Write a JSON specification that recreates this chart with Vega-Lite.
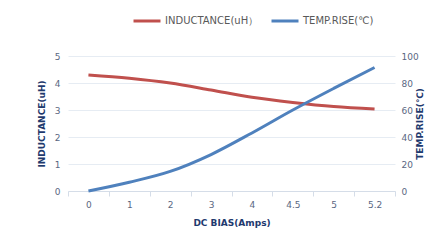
{
  "$schema": "https://vega.github.io/schema/vega-lite/v6.json",
  "width": 327,
  "height": 135,
  "autosize": "none",
  "padding": {"left": 68, "top": 56, "right": 43, "bottom": 49},
  "background": "white",
  "config": {
    "view": {"stroke": null},
    "font": "DejaVu Sans",
    "axis": {
      "labelFont": "DejaVu Sans",
      "labelFontSize": 9,
      "labelColor": "#5a6782",
      "titleFont": "DejaVu Sans",
      "titleFontSize": 9,
      "titleFontWeight": "bold",
      "titleColor": "#1f3a6e",
      "gridColor": "#e6ecf3",
      "domainColor": "#d5dde8",
      "tickColor": "#d5dde8"
    }
  },
  "data": {
    "values": [
      {"bias": "0", "ind": 4.3, "temp": 0},
      {"bias": "1", "ind": 4.18, "temp": 6.5},
      {"bias": "2", "ind": 4.0, "temp": 14.5},
      {"bias": "3", "ind": 3.74, "temp": 27},
      {"bias": "4", "ind": 3.47, "temp": 43},
      {"bias": "4.5", "ind": 3.28, "temp": 60},
      {"bias": "5", "ind": 3.13, "temp": 76},
      {"bias": "5.2", "ind": 3.04, "temp": 91.5}
    ]
  },
  "encoding": {
    "x": {
      "field": "bias",
      "type": "ordinal",
      "sort": null,
      "scale": {"type": "band", "paddingInner": 0, "paddingOuter": 0},
      "axis": {
        "title": "DC BIAS(Amps)",
        "labelAngle": 0,
        "tickBand": "extent",
        "tickSize": 5,
        "labelPadding": 4,
        "titlePadding": 9,
        "grid": false
      }
    }
  },
  "layer": [
    {
      "mark": {"type": "line", "interpolate": "monotone", "strokeWidth": 3},
      "encoding": {
        "y": {
          "field": "ind",
          "type": "quantitative",
          "scale": {"domain": [0, 5], "nice": false},
          "axis": {
            "title": "INDUCTANCE(uH)",
            "values": [0, 1, 2, 3, 4, 5],
            "labelOverlap": false,
            "domain": false,
            "ticks": false,
            "grid": true,
            "labelPadding": 8,
            "titlePadding": 8
          }
        },
        "color": {
          "datum": "INDUCTANCE(uH）",
          "type": "nominal",
          "scale": {
            "domain": ["INDUCTANCE(uH）", "TEMP.RISE(℃)"],
            "range": ["#c0504d", "#4f81bd"]
          },
          "legend": {
            "title": null,
            "orient": "none",
            "legendX": 64,
            "legendY": -50,
            "direction": "horizontal",
            "symbolType": "stroke",
            "symbolSize": 729,
            "symbolStrokeWidth": 3,
            "labelFontSize": 10,
            "labelColor": "#595959",
            "columnPadding": 6,
            "labelOffset": 3
          }
        }
      }
    },
    {
      "mark": {"type": "line", "interpolate": "monotone", "strokeWidth": 3},
      "encoding": {
        "y": {
          "field": "temp",
          "type": "quantitative",
          "scale": {"domain": [0, 100], "nice": false},
          "axis": {
            "title": "TEMP.RISE(℃)",
            "orient": "right",
            "values": [0, 20, 40, 60, 80, 100],
            "labelOverlap": false,
            "domain": false,
            "ticks": false,
            "grid": false,
            "labelPadding": 6,
            "titleAngle": -90,
            "titlePadding": 6
          }
        },
        "color": {"datum": "TEMP.RISE(℃)", "type": "nominal"}
      }
    }
  ],
  "resolve": {"scale": {"y": "independent"}}
}
